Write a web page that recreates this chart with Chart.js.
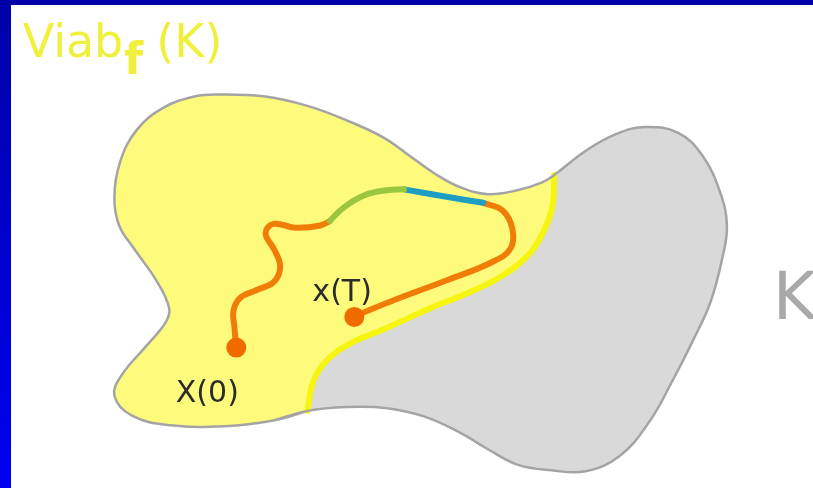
<!DOCTYPE html>
<html>
<head>
<meta charset="utf-8">
<script src="https://cdn.jsdelivr.net/npm/chart.js@4"></script>
<style>
  html, body { margin: 0; padding: 0; background: #fff; }
  #wrap { position: relative; width: 813px; height: 488px; overflow: hidden; }
  #topbar { position: absolute; left: 0; top: 0; width: 813px; height: 5px; background: #0000a8; }
  #leftbar { position: absolute; left: 0; top: 0; width: 11px; height: 488px;
             background: linear-gradient(#0000a8, #0000f2); }
</style>
</head>
<body>
<div id="wrap">
  <canvas id="myChart" width="813" height="488"></canvas>
  <div id="topbar"></div>
  <div id="leftbar"></div>
</div>
<script>
// outline of K, starting at the bottom where the kernel meets the grey part
var outlineK = [
  [305,418],[270,428],[220,434],[165,433],[125,423],[107,402],[115,380],[140,350],
  [160,325],[163,310],[150,282],[128,250],[112,225],[107,195],[113,158],[130,125],
  [157,102],[190,90],[213,88],[260,90],[305,100],[345,115],[383,133],[411,153],
  [436,171],[462,185],[490,192],[520,188],[545,180],[558,172],
  [590,147],[620,130],[650,122],[685,128],[710,152],[728,190],[735,225],[730,260],
  [718,305],[700,345],[680,385],[655,430],[625,465],[590,481],[555,480],[520,474],
  [490,458],[460,440],[425,424],[385,415],[345,414]
];
var kernelEnd = 29; // index of [558,172], where the kernel edge leaves the outline
// boundary of Viab_f(K) inside K
var kernelEdge = [
  [556,205],[546,233],[530,257],[500,280],[465,297],[433,310],[383,333],
  [350,347],[325,365],[311,387],[305,418]
];
var trajOrange1 = [
  [232,352],[230,330],[229,314],[236,300],[253,292],[271,283],[277,267],
  [271,250],[262,233],[270,223],[292,227],[317,225],[328,220]
];
var trajGreen = [[328,220],[342,206],[364,193],[386,188],[404,187]];
var trajCyan = [[404,187],[443,194],[485,201]];
var trajOrange2 = [
  [485,201],[505,209],[515,228],[513,249],[494,263],[450,281],[400,300],[368,313],[353,320]
];
var endPoints = [[232,352],[353,320]];

function pts(a) { return a.map(function (p) { return { x: p[0], y: p[1] }; }); }
// close a smooth loop by repeating the first two points
function loop(a) { return pts(a.concat([a[0], a[1]])); }

var yellowShape = outlineK.slice(0, kernelEnd + 1).concat(kernelEdge);
var stripe = [outlineK[kernelEnd]].concat(kernelEdge);

var texts = {
  id: 'texts',
  afterDatasetsDraw: function (chart) {
    var c = chart.ctx, sx = chart.scales.x, sy = chart.scales.y;
    function put(t, x, y, font, color) {
      c.font = font; c.fillStyle = color; c.textBaseline = 'alphabetic';
      c.fillText(t, sx.getPixelForValue(x), sy.getPixelForValue(y));
    }
    c.save();
    put('Viab', 13, 49, '46px "DejaVu Sans"', '#f0f03c');
    put('f', 117, 67, 'bold 44px "DejaVu Sans"', '#f0f03c');
    put('(K)', 150, 49, '46px "DejaVu Sans"', '#f0f03c');
    put('K', 782, 322, '66px "DejaVu Sans"', '#a9a9a9');
    put('X(0)', 170, 409, '30px "DejaVu Sans"', '#2b2b2b');
    put('x(T)', 310, 303, '30px "DejaVu Sans"', '#2b2b2b');
    c.restore();
  }
};

var line = function (label, data, color, width, order) {
  return {
    label: label, data: pts(data), showLine: true, fill: false,
    borderColor: color, borderWidth: width, pointRadius: 0, tension: 0.4,
    borderCapStyle: 'round', borderJoinStyle: 'round', order: order
  };
};

var ctx = document.getElementById('myChart').getContext('2d');
var myChart = new Chart(ctx, {
  type: 'scatter',
  data: {
    datasets: [
      { label: 'K', data: loop(outlineK), showLine: true, fill: 'shape',
        backgroundColor: '#d9d9d9', borderColor: 'rgba(0,0,0,0)', pointRadius: 0,
        tension: 0.4, order: 10 },
      { label: 'Viab', data: pts(yellowShape.concat([yellowShape[0]])), showLine: true, fill: 'shape',
        backgroundColor: '#fefb7c', borderColor: 'rgba(0,0,0,0)', pointRadius: 0,
        tension: 0.4, order: 9 },
      line('edge', stripe, '#f6f510', 6, 8),
      { label: 'outline', data: loop(outlineK), showLine: true, fill: false,
        borderColor: '#a4a4a4', borderWidth: 2.5, pointRadius: 0, tension: 0.4, order: 7 },
      line('o1', trajOrange1, '#ef7d08', 6, 6),
      line('green', trajGreen, '#9bc63f', 6, 5),
      line('cyan', trajCyan, '#1d9ec2', 6, 5),
      line('o2', trajOrange2, '#ef7d08', 6, 5),
      { label: 'dots', data: pts(endPoints), showLine: false, pointRadius: 10,
        pointBackgroundColor: '#f06a00', pointBorderWidth: 0, order: 1 }
    ]
  },
  options: {
    responsive: false,
    animation: false,
    devicePixelRatio: 1,
    layout: { padding: 0 },
    plugins: { legend: { display: false }, tooltip: { enabled: false } },
    scales: {
      x: { type: 'linear', min: 0, max: 813, display: false },
      y: { type: 'linear', min: 0, max: 488, reverse: true, display: false }
    }
  },
  plugins: [texts]
});
</script>
</body>
</html>
